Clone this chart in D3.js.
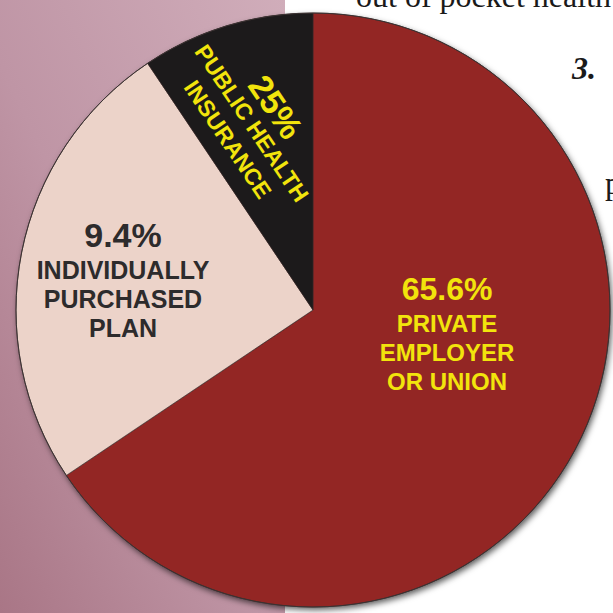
<!DOCTYPE html>
<html>
<head>
<meta charset="utf-8">
<script src="https://cdn.jsdelivr.net/npm/d3@7/dist/d3.min.js"></script>
<style>
  html, body { margin: 0; padding: 0; background: #ffffff; }
  svg { display: block; }
</style>
</head>
<body>
<svg id="chart" width="613" height="613"></svg>
<script>
// Health coverage by source, clockwise from 12 o'clock
const categories = ["PRIVATE EMPLOYER OR UNION", "INDIVIDUALLY PURCHASED PLAN", "PUBLIC HEALTH INSURANCE"];
const shares = [65.6, 25, 9.4];
const shareLabels = ["65.6%", "9.4%", "25%"];
const nameLines = [["PRIVATE", "EMPLOYER", "OR UNION"], ["INDIVIDUALLY", "PURCHASED", "PLAN"], ["PUBLIC HEALTH", "INSURANCE"]];
const sliceColors = ["#932624", "#ecd3c9", "#1c1a1b"];
const textColors = ["#f2e40c", "#2d2b2c", "#f2e40c"];

const W = 613, H = 613;
const cx = 313, cy = 310, R = 297;
const FONT = "'Liberation Sans', Arial, Helvetica, sans-serif";
const SERIF = "'Liberation Serif', 'Times New Roman', serif";

const svg = d3.select("#chart");
const defs = svg.append("defs");

// mauve side panel
const panelGrad = defs.append("linearGradient")
  .attr("id", "panelGrad").attr("x1", "1").attr("y1", "0").attr("x2", "0").attr("y2", "1");
panelGrad.append("stop").attr("offset", "0%").attr("stop-color", "#d0adba");
panelGrad.append("stop").attr("offset", "55%").attr("stop-color", "#bf95a5");
panelGrad.append("stop").attr("offset", "100%").attr("stop-color", "#a97686");

const shadow = defs.append("filter").attr("id", "pieShadow")
  .attr("x", "-10%").attr("y", "-10%").attr("width", "120%").attr("height", "120%");
shadow.append("feDropShadow")
  .attr("dx", 2).attr("dy", 3).attr("stdDeviation", 3)
  .attr("flood-color", "#000").attr("flood-opacity", 0.65);

svg.append("rect").attr("x", 0).attr("y", 0).attr("width", W).attr("height", H).attr("fill", "#ffffff");
svg.append("rect").attr("x", 0).attr("y", 0).attr("width", 285).attr("height", H).attr("fill", "url(#panelGrad)");

// surrounding body text
svg.append("text").attr("x", 356).attr("y", 7)
  .attr("font-family", SERIF).attr("font-size", 32).attr("fill", "#1a1a1a")
  .text("out of pocket health");
svg.append("text").attr("x", 572).attr("y", 79)
  .attr("font-family", SERIF).attr("font-size", 32).attr("font-weight", "bold")
  .attr("font-style", "italic").attr("fill", "#1a1a1a")
  .text("3.");
svg.append("text").attr("x", 605).attr("y", 194)
  .attr("font-family", SERIF).attr("font-size", 32).attr("fill", "#1a1a1a")
  .text("p");

// pie
const pie = d3.pie().sort(null).value(d => d)(shares);
const arc = d3.arc().innerRadius(0).outerRadius(R);

const g = svg.append("g").attr("transform", `translate(${cx},${cy})`);
g.append("circle").attr("r", R).attr("fill", "#2a2020").attr("filter", "url(#pieShadow)");
g.selectAll("path.slice").data(pie).join("path")
  .attr("class", "slice")
  .attr("d", arc)
  .attr("fill", (d, i) => sliceColors[i])
  .attr("stroke", "#3a2a2a").attr("stroke-width", 0.6);
g.append("circle").attr("r", R).attr("fill", "none").attr("stroke", "#3b3333").attr("stroke-width", 1);

// labels: [dx, dy, rotation, value font size, name font size, line gap]
const labelLayout = [
  [134, -10, 0, 32, 24, 29],
  [-190, -63, 0, 34, 25, 29],
  [-61, -187, 56, 34, 23, 29]
];

labelLayout.forEach(([dx, dy, rot, vs, ns, gap], i) => {
  const lg = g.append("g").attr("transform", `translate(${dx},${dy}) rotate(${rot})`)
    .attr("font-family", FONT).attr("font-weight", "bold")
    .attr("text-anchor", "middle").attr("fill", textColors[i]);
  if (rot === 0) {
    lg.append("text").attr("x", 0).attr("y", 0).attr("font-size", vs).text(shareLabels[i]);
    nameLines[i].forEach((line, k) => {
      lg.append("text").attr("x", 0).attr("y", 32 + k * gap).attr("font-size", ns).text(line);
    });
  } else {
    lg.append("text").attr("x", 0).attr("y", -gap + vs * 0.36).attr("font-size", vs).text(shareLabels[i]);
    nameLines[i].forEach((line, k) => {
      lg.append("text").attr("x", 0).attr("y", k * gap + ns * 0.36).attr("font-size", ns).text(line);
    });
  }
});
</script>
</body>
</html>
